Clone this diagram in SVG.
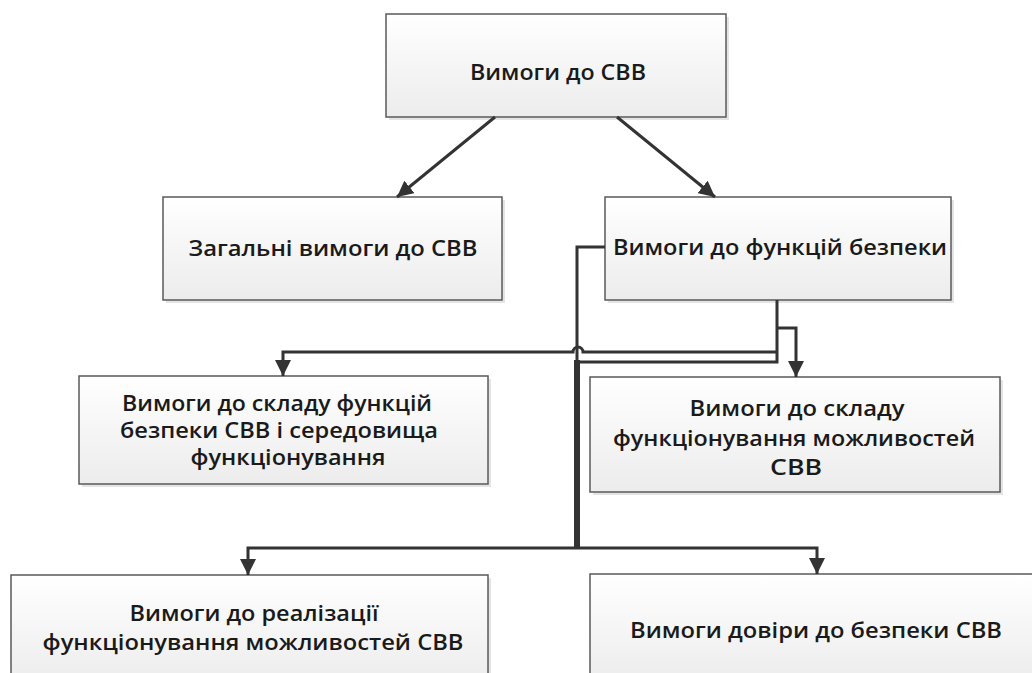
<svg xmlns="http://www.w3.org/2000/svg" width="1032" height="673" viewBox="0 0 1032 673">
  <style>
    .box { fill: url(#boxFill); stroke: #5a5a5a; stroke-width: 1.5; }
    .shadow { fill: #e4e4e4; }
    .label { font-family: "Open Sans", "Noto Sans", "DejaVu Sans", sans-serif; font-weight: 600; font-size: 21px; fill: #1a1a1a; text-anchor: middle; dominant-baseline: central; }
    .wire { fill: none; stroke: #333; stroke-width: 3; stroke-linejoin: miter; }
    .trunk { fill: none; stroke: #333; stroke-width: 6; }
  </style>
  <defs>
    <linearGradient id="boxFill" x1="0" y1="0" x2="0" y2="1">
      <stop offset="0" stop-color="#ffffff"/>
      <stop offset="1" stop-color="#ececec"/>
    </linearGradient>
    <marker id="arrow" viewBox="0 0 16 16" refX="16" refY="8" markerWidth="16" markerHeight="16" markerUnits="userSpaceOnUse" orient="auto">
      <path d="M0,0 L16,8 L0,16 Z" fill="#333"/>
    </marker>
  </defs>

  <rect width="1032" height="673" fill="#ffffff"/>

  <!-- nodes -->
  <g id="root">
    <rect class="shadow" x="389" y="17" width="340" height="103"/>
    <rect class="box" x="386" y="14" width="340" height="103"/>
    <text class="label" x="558" y="72" textLength="176" lengthAdjust="spacingAndGlyphs">Вимоги до СВВ</text>
  </g>
  <g id="general">
    <rect class="shadow" x="166" y="200" width="339" height="103"/>
    <rect class="box" x="163" y="197" width="339" height="103"/>
    <text class="label" x="333" y="248" textLength="289" lengthAdjust="spacingAndGlyphs">Загальні вимоги до СВВ</text>
  </g>
  <g id="security-functions">
    <rect class="shadow" x="608" y="200" width="346" height="103"/>
    <rect class="box" x="605" y="197" width="346" height="103"/>
    <text class="label" x="780" y="247" textLength="334" lengthAdjust="spacingAndGlyphs">Вимоги до функцій безпеки</text>
  </g>
  <g id="composition">
    <rect class="shadow" x="82" y="379" width="409" height="108"/>
    <rect class="box" x="79" y="376" width="409" height="108"/>
    <text class="label" x="277" y="403" textLength="310" lengthAdjust="spacingAndGlyphs">Вимоги до складу функцій</text>
    <text class="label" x="279" y="430" textLength="318" lengthAdjust="spacingAndGlyphs">безпеки СВВ і середовища</text>
    <text class="label" x="288" y="457" textLength="195" lengthAdjust="spacingAndGlyphs">функціонування</text>
  </g>
  <g id="capabilities">
    <rect class="shadow" x="593" y="380" width="410" height="115"/>
    <rect class="box" x="590" y="377" width="410" height="115"/>
    <text class="label" x="797" y="408" textLength="215" lengthAdjust="spacingAndGlyphs">Вимоги до складу</text>
    <text class="label" x="794" y="438" textLength="362" lengthAdjust="spacingAndGlyphs">функціонування можливостей</text>
    <text class="label" x="796" y="467" textLength="52" lengthAdjust="spacingAndGlyphs">СВВ</text>
  </g>
  <g id="implementation">
    <rect class="shadow" x="14" y="578" width="477" height="110"/>
    <rect class="box" x="11" y="575" width="477" height="110"/>
    <text class="label" x="254" y="613" textLength="249" lengthAdjust="spacingAndGlyphs">Вимоги до реалізації</text>
    <text class="label" x="253" y="642" textLength="421" lengthAdjust="spacingAndGlyphs">функціонування можливостей СВВ</text>
  </g>
  <g id="assurance">
    <rect class="shadow" x="593" y="577" width="460" height="110"/>
    <rect class="box" x="590" y="574" width="460" height="110"/>
    <text class="label" x="816" y="630" textLength="372" lengthAdjust="spacingAndGlyphs">Вимоги довіри до безпеки СВВ</text>
  </g>

  <!-- connectors -->
  <g id="connectors">
    <path class="wire" d="M495,117 L397,197" marker-end="url(#arrow)"/>
    <path class="wire" d="M617,117 L715,197" marker-end="url(#arrow)"/>
    <!-- from the bottom of the security-functions box -->
    <path class="wire" d="M777,300 V362 H577"/>
    <path class="wire" d="M777,328 H796 V377" marker-end="url(#arrow)"/>
    <path class="wire" d="M777,352 H583 A5,5 0 0 0 573,352 H283 V376" marker-end="url(#arrow)"/>
    <!-- from the left side of the security-functions box -->
    <path class="wire" d="M605,247 H577 V548"/>
    <path class="trunk" d="M577,360 V548"/>
    <path class="wire" d="M577,548 H248 V575" marker-end="url(#arrow)"/>
    <path class="wire" d="M577,548 H817 V574" marker-end="url(#arrow)"/>
  </g>
</svg>
